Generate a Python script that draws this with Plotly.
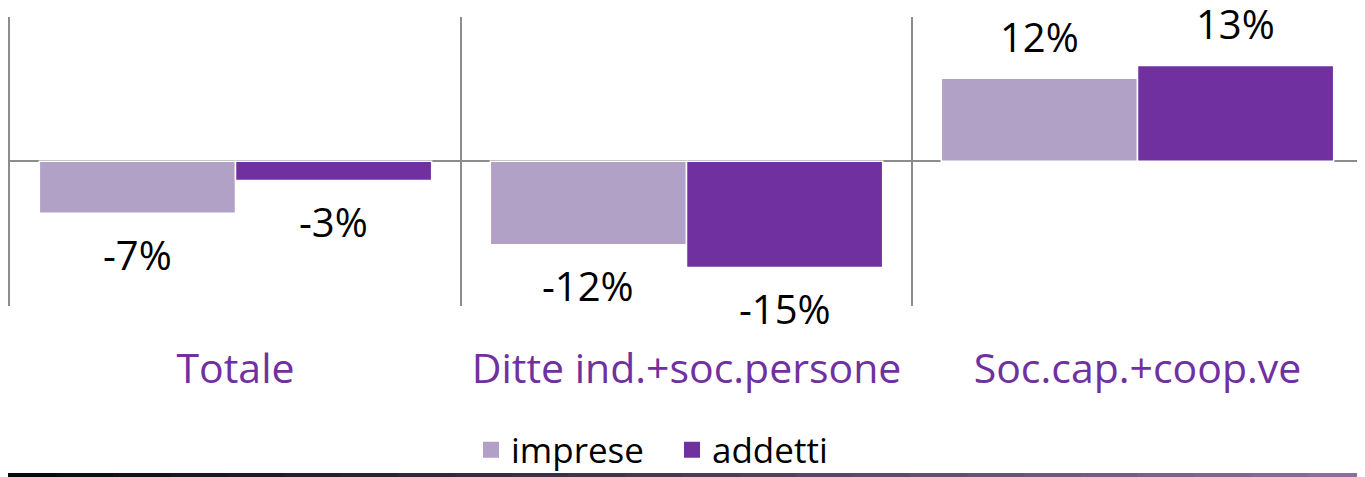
import plotly.graph_objects as go

categories = ["Totale", "Ditte ind.+soc.persone", "Soc.cap.+coop.ve"]
imprese = [-7.3, -11.7, 11.6]
addetti = [-2.7, -14.9, 13.4]

COL_IMP = "#b2a1c7"
COL_ADD = "#7030a0"
FONT = "Open Sans"

# the page body has an 8px margin, so the figure sits at (8, 8)
OFF = 8
W, H = 1365 - OFF, 477 - OFF
M_L, M_R, M_T, M_B = 2, 2, 9, 171
plot_w = W - M_L - M_R
plot_h = H - M_T - M_B
BARGAP = 0.13
bar_w = plot_w / len(categories) * (1 - BARGAP) / 2


def paper_y(px):
    # page pixel row -> paper y coordinate
    return (M_T + plot_h - (px - OFF)) / plot_h


def paper_x(px):
    return (px - OFF - M_L) / plot_w


fig = go.Figure()

for name, vals, col in [("imprese", imprese, COL_IMP), ("addetti", addetti, COL_ADD)]:
    fig.add_trace(go.Bar(
        x=categories, y=vals, name=name,
        marker=dict(color=col, line=dict(color="white", width=1.5)),
        showlegend=False,
    ))
    # legend entry with a larger swatch
    fig.add_trace(go.Scatter(
        x=[None], y=[None], mode="markers", name=name,
        marker=dict(symbol="square", size=22, color=col),
    ))

# data labels, offset away from the bar end
for vals, side in [(imprese, -1), (addetti, 1)]:
    for cat, v in zip(categories, vals):
        fig.add_annotation(
            x=cat, y=v, text=f"{round(v)}%", showarrow=False,
            xshift=side * bar_w / 2,
            yshift=42 if v > 0 else -41,
            yanchor="middle", borderpad=0,
            font=dict(family=FONT, size=40, color="black"),
        )

# dark band along the bottom edge
n = 24
for i in range(n):
    t = i / (n - 1)
    r = int(10 + t * (140 - 10))
    g = int(8 + t * (110 - 8))
    b = int(12 + t * (150 - 12))
    fig.add_shape(
        type="rect", xref="paper", yref="paper",
        x0=paper_x(i * 1365 / n), x1=paper_x((i + 1) * 1365 / n + 1),
        y0=paper_y(473), y1=paper_y(478),
        line=dict(width=0), fillcolor=f"rgb({r},{g},{b})", layer="above",
    )

fig.update_layout(
    width=W, height=H,
    margin=dict(l=M_L, r=M_R, t=M_T, b=M_B, autoexpand=False),
    paper_bgcolor="white", plot_bgcolor="white",
    barmode="group", bargap=BARGAP, bargroupgap=0,
    font=dict(family=FONT, color="black"),
    legend=dict(
        orientation="h", x=paper_x(672), xanchor="center",
        y=paper_y(450), yanchor="middle",
        bgcolor="rgba(0,0,0,0)",
        font=dict(family=FONT, size=35, color="black"),
        tracegroupgap=0, entrywidth=156,
    ),
    xaxis=dict(
        type="category", range=[-0.5, 2.5], automargin=False,
        tickson="boundaries", showgrid=True, gridcolor="#8c8c8c", gridwidth=2,
        ticks="", ticklabelstandoff=35,
        tickfont=dict(family=FONT, size=41, color=COL_ADD),
        showline=False, zeroline=False,
    ),
    yaxis=dict(
        range=[-20.3, 20.2], showticklabels=False, showgrid=False, automargin=False,
        zeroline=True, zerolinecolor="#8c8c8c", zerolinewidth=2,
        showline=True, linecolor="#8c8c8c", linewidth=2, mirror=True, ticks="",
    ),
)

fig.write_html("out.html")
